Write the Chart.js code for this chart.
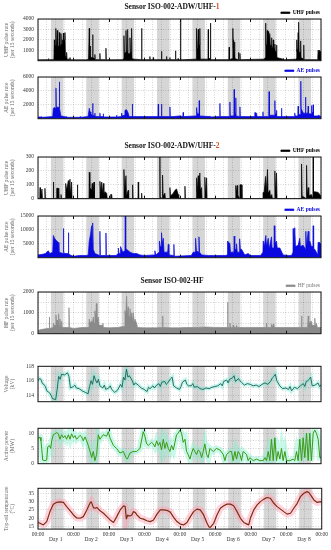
<!DOCTYPE html>
<html>
<head>
<meta charset="utf-8">
<script src="https://cdn.jsdelivr.net/npm/chart.js@4.4.0/dist/chart.umd.min.js"></script>
<style>
body { margin: 0; background: #fff; }
#wrap { position: relative; width: 331px; height: 550px; font-family: 'Liberation Serif', serif; }
#wrap canvas { position: absolute; left: 0; }
.ttl { position: absolute; left: 0; width: 344px; text-align: center; font-weight: bold; font-size: 7.5px; line-height: 8px; color: #111; z-index: 2; }
.ttl span { color: #d2501e; }
</style>
</head>
<body>
<div id="wrap">
  <div class="ttl" style="top:3px">Sensor ISO-002-ADW/UHF-<span>1</span></div>
  <div class="ttl" style="top:142px">Sensor ISO-002-ADW/UHF-<span>2</span></div>
  <div class="ttl" style="top:277px">Sensor ISO-002-HF</div>
</div>
<script>
// x values are hours since the start of Day 1
const shadeHours = [8.75, 17.25];
const dayNames = ['Day 1', 'Day 2', 'Day 3', 'Day 4', 'Day 5', 'Day 6', 'Day 7', 'Day 8'];
const timeLabel = '00:00';

const uhf1 = [[0,80],[6,100],[6.8,100],[7,200],[7.3,100],[10.8,100],[11.1,2000],[11.4,800],[11.7,1500],[12,900],[12.2,3100],[12.5,1000],[13.1,2900],[13.4,1200],[13.7,1400],[14.2,1000],[14.5,2700],[14.8,1200],[15.2,1500],[15.6,2600],[15.9,1400],[16.3,1600],[16.6,2000],[16.9,1500],[17.2,2650],[17.5,1800],[18,2000],[18.3,2700],[18.6,500],[19.2,300],[19.4,800],[19.7,150],[21.5,150],[21.7,300],[22,80],
  [33,80],[34.3,150],[34.6,150],[34.8,3100],[35,500],[35.3,500],[35.5,1400],[35.8,300],[36.9,300],[37.1,2500],[37.3,300],[38.4,200],[38.6,600],[38.8,100],[41.8,100],[42,700],[42.2,100],[45.9,100],[46.1,1200],[46.3,80],
  [57.5,100],[58.1,200],[58.3,2400],[58.6,700],[59.4,800],[59.7,2900],[60,900],[60.6,900],[60.8,3000],[61.1,700],[62.2,700],[62.4,2200],[62.7,800],[63.3,800],[63.5,3100],[63.8,200],[65,150],[70.1,100],[70.3,3100],[70.5,100],
  [75.7,100],[75.9,400],[76.1,100],[78,100],[78.2,300],[78.4,100],[83.6,100],[83.8,900],[84,100],[87,100],[87.2,400],[87.4,100],[89.3,100],[89.5,300],[89.7,100],[93.1,100],[93.3,950],[93.5,100],[94.8,100],[95,200],[95.3,80],
  [96.5,80],[96.7,4000],[96.9,80],[107.2,150],[107.4,300],[107.6,3100],[107.9,1200],[108.4,1500],[108.7,3000],[109,1500],[109.5,1500],[109.8,3100],[110.1,150],[115.3,150],[115.5,3000],[115.7,200],[116.8,200],[117,3600],[117.2,100],
  [129.5,100],[129.7,1300],[129.9,100],[131.9,200],[132.2,3100],[132.5,1200],[132.7,2000],[133,900],[133.3,1800],[133.6,200],[135.8,100],[136,800],[136.2,100],[136.8,100],[137,700],[137.2,100],
  [153.5,150],[154.2,300],[154.4,3600],[154.6,1500],[155.2,1500],[155.5,2900],[155.8,1700],[156.2,2800],[156.5,1700],[156.8,2300],[157.1,1500],[157.3,2600],[157.6,1400],[158.1,1500],[158.4,2200],[158.7,1300],[159.3,1300],[159.6,2000],[159.9,1100],[160.4,1200],[160.7,1600],[161,900],[161.5,900],[161.8,1500],[162.1,300],[166.1,150],[166.3,200],[166.6,80],
  [174.8,150],[175.2,200],[175.4,2000],[175.7,900],[176.2,1200],[176.5,2700],[176.7,900],[176.9,3700],[177.2,800],[178,800],[178.2,1900],[178.5,300],[180.1,150],[180.3,1500],[180.5,100],[189.5,100],[189.8,200],[190,1000],[190.5,700],[191,1000],[192,800]];

const ae1 = [[0,250],[2.3,250],[2.5,300],[2.8,200],[10,300],[10.4,1500],[11.5,1600],[12,1400],[12.2,4400],[12.4,1600],[13.8,1700],[14.3,1500],[14.5,5300],[14.7,1500],[15.5,400],[19.2,250],[19.4,300],[20,200],[28.3,200],[28.5,300],[29,200],
  [34,300],[34.8,1500],[35.3,1000],[35.8,800],[36.9,400],[37.1,2200],[37.3,500],[38.4,400],[38.6,800],[38.8,300],[41.8,300],[42,800],[42.2,300],[44.1,300],[44.3,700],[44.5,250],
  [53.1,250],[53.3,500],[53.5,250],[56.5,300],[56.7,800],[57.2,400],[58.5,500],[59,1200],[60.1,1300],[61.2,800],[61.8,300],[63.8,300],[64,2100],[64.2,300],[66.9,300],
  [81.4,300],[81.6,2100],[81.8,300],[83.6,300],[83.8,2100],[84,300],[89.3,300],[89.5,1700],[89.7,300],[91.8,300],[96,400],
  [98.3,300],[98.5,900],[98.7,300],[107.2,400],[107.6,1600],[108,700],[109.2,700],[109.4,2600],[109.6,400],[116.4,300],[116.6,400],[117,250],
  [123.2,300],[123.4,2200],[123.6,300],[130,300],[130.2,2400],[130.4,400],[132.9,400],[133.1,4200],[133.3,800],[134,800],[134.2,3000],[134.4,400],[136.8,300],[137,1700],[137.2,300],[141.5,300],
  [146.8,300],[147.1,900],[148.3,800],[148.6,300],[152.4,300],[152.6,1000],[152.8,300],[156.6,300],[156.8,3900],[157,500],[160.5,500],[160.7,2600],[160.9,700],[161.6,700],[161.8,1200],[162,300],[165,300],[165.2,1500],[165.4,300],
  [174,300],[174.2,800],[174.5,400],[176.3,400],[176.5,1800],[176.7,600],[178.1,600],[178.3,5400],[178.5,1500],[179.9,800],[181.3,800],[181.5,3100],[181.7,800],[183.1,800],[183.3,1800],[183.5,700],[185.3,700],[185.5,1900],[185.8,900],[186.5,900],[186.7,2000],[186.9,400],[189.9,400],[190.1,500],[192,300]];

const uhf2 = [[0,0],[1.2,0],[1.4,80],[1.7,5],[2.7,70],[3,0],[4.5,0],[4.7,75],[5,0],[10.2,0],[10.4,120],[10.7,0],[12.5,0],[12.7,75],[13.8,75],[14.1,0],[15.4,0],[15.6,30],[15.9,0],[18.6,0],[18.8,110],[19.4,60],[20.6,130],[21,40],[21.7,140],[22,30],[22.8,120],[23.1,0],[26.5,0],[26.7,100],[27,0],
  [34.6,0],[34.8,190],[35.2,80],[36.4,60],[36.8,110],[37.1,20],[38,120],[38.3,0],[41.8,0],[42,125],[42.6,40],[43.2,120],[43.6,40],[44.3,110],[44.7,30],[45.4,50],[46.6,40],[47,0],[49.1,0],[49.3,30],[50,30],[50.3,0],
  [58.1,0],[58.3,210],[58.8,50],[59.7,165],[60,20],[61.2,60],[61.5,0],[64,0],[64.2,100],[64.5,0],[67.8,0],[68,120],[68.3,0],[70.1,0],[70.3,40],[70.6,0],
  [82.5,0],[82.7,300],[82.9,10],[84.3,0],[84.5,170],[84.9,20],[86.1,40],[86.4,0],[89.3,0],[89.5,80],[89.9,20],[91.8,40],[92.9,60],[94,70],[95.1,30],[95.5,0],[99.5,0],[99.7,90],[100,0],
  [107.4,0],[107.6,150],[108,50],[108.7,165],[109.1,50],[109.8,185],[110.2,60],[111,80],[111.3,0],[113,0],[113.2,155],[113.7,30],[114.4,150],[114.7,0],
  [134,0],[134.2,95],[134.6,40],[135.2,95],[135.5,30],[136.8,0],[137,100],[138.1,100],[138.4,0],
  [152.6,0],[152.8,45],[153.1,10],[154.4,160],[154.8,30],[155.7,210],[156.1,40],[157.3,60],[157.7,10],[158.6,30],[159,0],[160.5,0],[160.7,200],[161.1,40],[161.8,185],[162.2,0],
  [178.6,0],[178.8,250],[179.2,20],[182,0],[182.2,240],[182.6,30],[183.3,80],[183.7,20],[185.5,30],[186.5,0],[186.7,300],[186.9,50],[187.8,50],[190.1,45],[191.2,30],[192,20]];

const ae2 = [[0,1000],[3,1200],[5,1500],[7,2500],[8,1500],[10,2000],[10.4,8000],[11.2,7000],[12.7,6000],[13.8,5500],[14.2,2000],[17,1500],[17.2,10500],[17.5,2000],[18.3,1500],[20.4,1500],[20.6,9000],[20.9,1500],[21.7,1000],[24,500],[28,800],
  [33,800],[34.1,1000],[34.8,6000],[35.5,8000],[36.4,11500],[36.8,5000],[37.1,12500],[37.5,3000],[38.6,1500],[41.8,800],[42,9500],[42.3,800],[45.9,800],[46.1,8900],[46.4,800],
  [53,800],[54.3,1500],[54.5,3500],[55,1500],[55.8,1500],[56,4000],[57.5,2000],[59,2500],[59.2,15000],[59.5,3000],[60.1,3000],[62.4,2000],[64.6,1500],[66.9,1500],[69.2,1000],[72,800],
  [79.1,1000],[79.3,2500],[80,1000],[82.2,2000],[82.4,6000],[83,4000],[83.6,4000],[83.8,9000],[84.3,5000],[85,7000],[85.5,2000],[88,2000],[88.4,4800],[88.8,1000],[92,800],[92.2,4800],[92.5,500],
  [104,800],[105.3,2000],[106.7,2000],[106.9,7000],[107.5,2500],[109,2000],[109.2,7500],[109.6,2000],[111,1000],[115.5,800],[118.9,800],
  [127,800],[128.4,1000],[128.6,6000],[129.5,5500],[130.2,5000],[130.6,2000],[132.9,2000],[133.1,7800],[133.5,3000],[134.5,3000],[134.7,5000],[135.2,2000],[136.6,2000],[136.8,6800],[137.3,3000],[138.1,3000],[140.3,1000],
  [142.6,1500],[144,800],[151,800],[152.6,2000],[152.8,6000],[153.5,4000],[154.6,8000],[155,4000],[156.2,7000],[156.8,3000],[158.4,7500],[158.8,3500],[160.1,3500],[160.3,11500],[160.7,5000],[161.8,6000],[162.3,3500],[164.1,3500],[166.3,1000],[170,800],
  [172,800],[173,2000],[173.1,10500],[173.6,3000],[174.2,10800],[174.7,4000],[176.5,4500],[177.6,7000],[178,4000],[179.9,4500],[181.5,3000],[181.7,9500],[182.2,4000],[183.3,9500],[183.8,5000],[184.4,6000],[185.5,4000],[186.5,4000],[186.7,11500],[187,3000],[187.8,3000],[189.8,1000],[190,5500],[191.2,5500],[191.5,5000],[192,5000]];

const hf = [[0,150],[2,200],[4,220],[6,250],[7.5,250],[7.7,800],[7.9,250],[10.2,300],[10.4,500],[11,400],[12,400],[12.2,900],[12.6,400],[13,650],[13.4,400],[13.8,400],[14,950],[14.4,400],[14.9,700],[15.3,350],[15.8,350],[16,600],[16.4,300],[20.8,300],[21,1250],[21.3,300],[24,250],[30,300],
  [34.6,300],[34.8,700],[35.3,500],[36.4,600],[36.9,500],[37.5,800],[38,500],[38.6,1100],[39.2,700],[39.6,1450],[40,600],[40.9,800],[41.4,400],[43.8,400],[44,500],[44.4,300],[48,280],
  [54,300],[58,350],[58.8,350],[59,1100],[59.5,800],[60.1,1800],[60.6,900],[61.2,1300],[61.8,800],[62.4,1200],[63,700],[63.5,1000],[64.1,600],[64.6,1000],[65.2,600],[65.8,700],[66.9,500],[67.5,300],[72,280],
  [80,280],[84.3,300],[84.5,850],[84.8,300],[90,280],[96,280],[100,300],[108,300],[114,320],[120,300],[124,300],[128.4,300],[128.6,1500],[128.9,300],[130,300],[130.2,500],[130.6,300],[132.2,300],[132.4,400],[132.8,300],[134.5,300],[134.7,400],[135.1,300],[140,300],[148,300],
  [154.8,300],[155,500],[155.4,300],[158.2,300],[158.4,450],[158.8,300],[159.4,300],[159.6,450],[160,300],[166,300],[172,300],[178.6,300],[178.8,850],[179.1,300],[182.9,300],[183.3,850],[183.7,400],[184.4,550],[185.5,600],[186,400],[187.6,400],[187.8,750],[188.2,350],[188.9,500],[189.5,300],[192,300]];

const voltage = [[0,116.0],[1,116.3],[2,116.2],[3,115.6],[4,115.5],[5,115.2],[6,114.6],[8,114.3],[10,113.5],[12,113.4],[13,114.8],[14,116.6],[15,116.2],[16,116.9],[18,116.8],[20,117.1],[21,116.6],[22,115.0],[24,115.2],[25,115.4],[26,115.0],[28,114.9],[30,114.6],[32,114.4],[34,114.2],[35,115.2],[36,116.0],[37,115.5],[38,116.7],[39,116.1],[40,115.7],[41,116.2],[42,115.3],[44,115.0],[45,115.4],[46,114.8],[48,115.0],[49,115.3],[50,114.8],[52,114.4],[54,114.7],[56,115.5],[57,115.1],[58,116.5],[59,116.1],[60,117.6],[61,116.5],[62,116.7],[64,116.0],[65,115.4],[66,115.7],[68,115.4],[70,115.0],[72,114.8],[74,114.5],[75,115.1],[76,114.9],[78,115.3],[79,115.0],[80,115.3],[82,115.6],[83,115.2],[84,115.8],[86,115.9],[87,115.5],[88,115.7],[90,116.3],[91,116.5],[92,115.3],[94,115.0],[96,114.8],[97,115.2],[98,115.8],[100,116.1],[101,115.5],[102,115.3],[104,115.3],[105,115.6],[106,115.1],[108,115.2],[110,114.9],[112,114.8],[114,115.0],[116,114.9],[118,115.1],[120,115.2],[122,115.3],[124,115.6],[125,115.3],[126,115.9],[128,116.1],[129,115.7],[130,116.2],[132,116.4],[133,116.7],[134,115.9],[136,116.3],[137,116.0],[138,115.8],[140,115.4],[142,115.6],[144,115.5],[146,115.3],[148,115.4],[150,115.2],[152,115.5],[154,115.7],[156,115.5],[158,116.0],[159,116.4],[160,116.6],[161,116.9],[162,116.0],[164,115.3],[166,114.9],[168,115.0],[170,114.8],[171,115.2],[172,114.6],[174,115.1],[176,114.9],[178,115.3],[180,115.6],[181,115.2],[182,115.9],[183,116.0],[184,116.2],[185,116.5],[186,115.3],[188,115.4],[190,115.7],[191,115.2],[192,115.4]];

const power = [[0,8.4],[1.4,8.6],[2,7.5],[2.5,5],[3.2,1.2],[4.7,1],[5.9,1.2],[6.6,5.5],[7.7,6],[8.6,5],[9.3,7.5],[10.4,9.5],[11.5,9.8],[12.7,10.2],[13.8,9.8],[14.9,8],[16,9.5],[17.2,8.5],[18.3,9.2],[19.4,8],[20.6,9.5],[21.7,8],[22.8,9.8],[24,8.5],[25.1,9.2],[26.2,8],[28.5,9.3],[29.6,8.8],[30.7,7.5],[31.9,8.8],[33,7.5],[34.1,6],[35.3,4],[36.4,2],[37.5,4],[38.6,1],[39.8,3],[40.9,9.5],[42,8],[44.3,9.5],[46.6,9],[47.7,10.5],[48.8,8.5],[51.1,6],[53.3,5],[55.6,3.5],[57.9,4],[59.7,2],[60.6,1.5],[62.4,3.5],[64.6,4],[66.9,4],[69.2,5],[71.4,10.5],[72.5,9],[73.7,6.5],[74.8,6],[77.1,7],[78.2,6.5],[79.3,5.5],[80.5,7.5],[81.6,6],[82.7,7],[83.8,4.5],[85,8],[86.1,5],[87.2,7],[88.4,5],[89.5,4],[90.6,6],[91.8,4.5],[92.9,7],[94,9.5],[95.1,10],[96.3,11],[97.4,10],[98.5,7],[99.7,8],[100.8,4],[101.9,3],[103.1,1.5],[104.2,3.5],[105.3,5],[106.4,4],[107.6,3],[108.7,4.5],[109.8,4],[111,2],[112.1,4],[113.2,6.5],[114.4,3],[115.5,2],[116.6,5],[118.9,4],[121.1,5],[123.4,4.5],[125.7,3],[126.8,1],[127.9,3],[130.2,4],[131.3,4],[132.4,1],[133.6,4],[134.7,1.5],[135.8,4],[137,3],[138.1,1],[139.2,4],[141.5,3],[142.6,1],[143.7,2],[146,1],[148.3,1.5],[150.5,1],[152.8,1],[153.9,2],[155,1],[156.2,4],[157.3,1],[158.4,8],[159.6,1],[160.7,8.5],[161.8,1],[162.9,4],[164.1,1.5],[165.2,5],[166.3,1],[167.5,4],[168.6,1],[170.9,1],[173.1,1.5],[174.2,1],[175.4,4],[176.5,1],[177.6,8],[178.8,1],[179.9,8.5],[181,2],[182.2,10],[183.3,1],[184.4,10],[185.5,1],[186.7,10],[187.8,11],[188.9,10],[190.1,8],[191.2,2],[192,2]];

const temperature = [[0,17.5],[1.4,17],[3.6,16],[5.9,18],[8.1,24],[10.4,28.4],[12.7,29.6],[14.9,29.8],[17.2,29.5],[19.4,27],[21.7,24.6],[24,22],[26.2,20.2],[28.5,20],[30.7,21],[33,25],[35.3,29.3],[36,30],[37.5,26.4],[38.6,26],[39.8,26.5],[42,24.5],[44.3,23],[46.6,21],[48.8,19],[51.1,17.5],[53.3,21],[55.6,25],[57.9,27.5],[59,27],[59.8,19.5],[60.7,22],[61.2,21.5],[62.4,21.5],[63.5,22],[64.6,24],[65.8,23.5],[66.9,22],[69.2,20],[71.4,19.5],[73.7,18.5],[75.9,18],[78.2,19],[80.5,22.5],[82.7,25],[85,25],[87.2,24.8],[89.5,23.7],[91.8,20.5],[94,18],[96.3,16.5],[98.5,16],[100.8,17.5],[103.1,21],[105.3,24],[107.6,25.5],[109.8,25],[112.1,22],[114.4,17],[115.5,15],[116.6,14.5],[118.9,17],[121.1,22],[123.4,26],[125.7,27.5],[127.9,28.5],[130.2,28.5],[132.4,27.5],[134.7,24],[137,20],[139.2,17.5],[141.5,16.5],[142.6,16],[143.7,20],[146,25],[148.3,28],[150.5,30],[152.8,31.5],[155,32.5],[157.3,32],[159.6,29],[161.8,27],[164.1,25.5],[166.3,24],[168.6,22.5],[170.9,23],[173.1,26],[175.4,29],[177.6,33],[179.9,35],[182.2,36],[183.3,35.5],[184.4,34],[186.7,31],[188.9,29.5],[191.2,30],[192,29.5]];

// y tick labels that are printed
const uhf1Ticks = [1000, 2000, 3000, 4000];
const ae1Ticks = [2000, 4000, 6000];
const uhf2Ticks = [0, 100, 200, 300];
const ae2Ticks = [5000, 10000, 15000];
const hfTicks = [0, 1000, 2000];
const voltTicks = [114, 116, 118];
const powerTicks = [0, 5, 10];
const tempTicks = [15, 20, 25, 30, 35];

const FONT = 'Liberation Serif';
const wrap = document.getElementById('wrap');
const toXY = arr => arr.map(p => ({ x: p[0], y: p[1] }));

const frame = {
  id: 'frame',
  beforeDraw(chart) {
    const { ctx, chartArea: a } = chart;
    const x = chart.scales.x;
    ctx.save();
    ctx.fillStyle = '#d6d6d6';
    for (let d = 0; d < dayNames.length; d++) {
      const x0 = x.getPixelForValue(d * 24 + shadeHours[0]);
      const x1 = x.getPixelForValue(d * 24 + shadeHours[1]);
      ctx.fillRect(x0, a.top, x1 - x0, a.bottom - a.top);
    }
    ctx.restore();
  },
  afterDraw(chart) {
    const { ctx, chartArea: a } = chart;
    const x = chart.scales.x;
    ctx.save();
    ctx.strokeStyle = '#111';
    ctx.lineWidth = 1;
    ctx.beginPath();
    for (let d = 1; d < dayNames.length; d++) {
      const px = Math.round(x.getPixelForValue(d * 24)) + 0.5;
      ctx.moveTo(px, a.top); ctx.lineTo(px, a.top + 3);
      ctx.moveTo(px, a.bottom); ctx.lineTo(px, a.bottom - 3);
    }
    ctx.stroke();
    ctx.strokeRect(a.left, a.top, a.right - a.left, a.bottom - a.top);
    ctx.restore();
  }
};

function makePanel(p) {
  const cv = document.createElement('canvas');
  cv.width = 331;
  cv.height = p.h;
  cv.style.top = p.top + 'px';
  wrap.appendChild(cv);

  const sets = [{
    label: p.label || '',
    data: toXY(p.data),
    borderColor: p.color,
    backgroundColor: p.color,
    borderWidth: p.lw,
    borderJoinStyle: 'bevel',
    pointRadius: 0,
    fill: p.fill ? 'origin' : false,
    order: 0
  }];
  if (p.band) {
    sets.push({
      data: toXY(p.data),
      borderColor: p.band,
      borderWidth: p.bandWidth,
      pointRadius: 0,
      fill: false,
      clip: 0,
      order: 1
    });
  }

  new Chart(cv, {
    type: 'line',
    data: { datasets: sets },
    plugins: [frame],
    options: {
      responsive: false,
      animation: false,
      layout: { padding: { left: 0, right: p.bottom ? 3 : 10, top: 0, bottom: 0 } },
      plugins: {
        tooltip: { enabled: false },
        legend: {
          display: !!p.label,
          position: 'top',
          align: 'end',
          maxHeight: 10,
          filter: item => item.datasetIndex === 0,
          labels: {
            boxWidth: 9,
            boxHeight: 1.5,
            padding: 1,
            color: p.legendColor || p.color,
            font: { family: FONT, size: 5.5, weight: p.legendBold ? 'bold' : 'normal' }
          }
        }
      },
      scales: {
        x: {
          type: 'linear',
          min: 0,
          max: 192,
          border: { display: false, dash: [1, 1.5] },
          grid: { color: 'rgba(0,0,0,0.28)', lineWidth: 0.6, drawTicks: false },
          ticks: {
            display: !!p.bottom,
            stepSize: 6,
            autoSkip: false,
            maxRotation: 0,
            padding: 3,
            color: '#333',
            font: { family: FONT, size: 5.5, lineHeight: 0.9 },
            callback: v => {
              if (v % 24 === 0) return timeLabel;
              if (v % 24 === 12) return ['', dayNames[(v - 12) / 24]];
              return '';
            }
          }
        },
        y: {
          min: p.min,
          max: p.max,
          afterFit: s => { s.width = 38; },
          border: { display: false, dash: [1, 1.5] },
          grid: { color: 'rgba(0,0,0,0.28)', lineWidth: 0.6, drawTicks: false },
          ticks: {
            stepSize: p.step,
            includeBounds: false,
            padding: 4,
            color: '#333',
            font: { family: FONT, size: 5.5 },
            callback: v => (p.ticks.includes(v) ? String(v) : '')
          },
          title: {
            display: true,
            text: p.title,
            color: '#666',
            padding: { top: 3, bottom: 0 },
            font: { family: FONT, size: 5.6, lineHeight: 1.15 }
          }
        }
      }
    }
  });
}

makePanel({ top: 9, h: 59, data: uhf1, label: 'UHF pulses', color: '#000', legendBold: true, lw: 0.7, fill: true,
  min: 0, max: 4000, step: 500, ticks: uhf1Ticks, title: ['UHF pulse rate', '(per 15 seconds)'] });
makePanel({ top: 67, h: 59, data: ae1, label: 'AE pulses', color: '#0a0ae0', legendBold: true, lw: 0.7, fill: true,
  min: 0, max: 6000, step: 1000, ticks: ae1Ticks, title: ['AE pulse rate', '(per 15 seconds)'] });
makePanel({ top: 147, h: 59, data: uhf2, label: 'UHF pulses', color: '#000', legendBold: true, lw: 0.7, fill: true,
  min: 0, max: 300, step: 50, ticks: uhf2Ticks, title: ['UHF pulse rate', '(per 15 seconds)'] });
makePanel({ top: 206, h: 59, data: ae2, label: 'AE pulses', color: '#0a0ae0', legendBold: true, lw: 0.7, fill: true,
  min: 0, max: 15000, step: 2500, ticks: ae2Ticks, title: ['AE pulse rate', '(per 15 seconds)'] });
makePanel({ top: 282, h: 59, data: hf, label: 'HF pulses', color: '#8a8a8a', legendColor: '#777', lw: 0.7, fill: true,
  min: 0, max: 2000, step: 500, ticks: hfTicks, title: ['HF pulse rate', '(per 15 seconds)'] });
makePanel({ top: 359, h: 50, data: voltage, color: '#1d5e4f', lw: 0.9, band: 'rgba(110,235,215,0.4)', bandWidth: 4,
  min: 113.1, max: 118, step: 1, ticks: voltTicks, title: ['Voltage', '(kV)'] });
makePanel({ top: 421, h: 50, data: power, color: '#3a9a14', lw: 1, band: 'rgba(130,240,205,0.45)', bandWidth: 6,
  min: 0, max: 11.6, step: 2.5, ticks: powerTicks, title: ['Active power', '(MW)'] });
makePanel({ top: 481, h: 64, data: temperature, color: '#7b2d12', lw: 1.2, band: 'rgba(255,160,180,0.45)', bandWidth: 7,
  min: 13.5, max: 38, step: 2.5, ticks: tempTicks, title: ['Top-oil temperature', '(°C)'], bottom: true });
</script>
</body>
</html>
